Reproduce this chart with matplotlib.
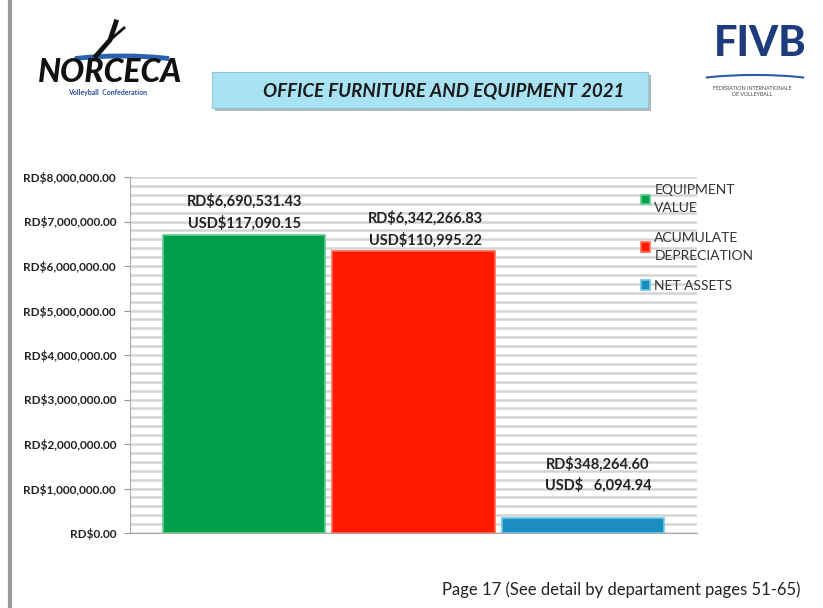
import matplotlib.pyplot as plt
import matplotlib.patches as mpatches
from matplotlib.ticker import FuncFormatter, MultipleLocator

# data
series = ['EQUIPMENT\nVALUE', 'ACUMULATE\nDEPRECIATION', 'NET ASSETS']
rd_values = [6690531.43, 6342266.83, 348264.60]
usd_values = [117090.15, 110995.22, 6094.94]
colors = ['#00A04B', '#FF1A00', '#1C8DBF']
edge_colors = ['#5FD08F', '#FF6A50', '#6CC8E8']
label_texts = ['RD$6,690,531.43\nUSD$117,090.15',
               'RD$6,342,266.83\nUSD$110,995.22',
               'RD$348,264.60\nUSD$   6,094.94']
label_y = [6.8e6, 6.42e6, 0.9e6]
label_dx = [0, 0.07, 0.09]

plt.rcParams['font.family'] = ['Lato', 'DejaVu Sans']

fig = plt.figure(figsize=(8.23, 6.08), dpi=100)
W, H = 823, 608

def fx(px):
    return px / W

def fy(py):
    return 1 - py / H

# page border line on the left
fig.add_artist(plt.Line2D([fx(10), fx(10)], [0, 1], color='#9a9a9a', lw=3))

# title box with shadow
shadow = mpatches.Rectangle((fx(215), fy(111)), fx(436), fy(72) - fy(108),
                            transform=fig.transFigure, facecolor='#b8b8b8',
                            edgecolor='none', zorder=1)
box = mpatches.Rectangle((fx(212), fy(108)), fx(436), fy(72) - fy(108),
                         transform=fig.transFigure, facecolor='#A9E2F2',
                         edgecolor='#8fc8da', lw=0.8, zorder=2)
fig.add_artist(shadow)
fig.add_artist(box)
fig.text(fx(444), fy(91), 'OFFICE FURNITURE AND EQUIPMENT 2021', ha='center',
         va='center', fontsize=13.5, fontweight='bold', fontstyle='italic',
         color='#1a1a1a', zorder=3)

# NORCECA logo (text approximation)
fig.text(fx(110), fy(73), 'NORCECA', ha='center', va='center', fontsize=23,
         fontweight='black', fontstyle='italic', color='#111111')
fig.text(fx(108), fy(93), 'Volleyball  Confederation', ha='center', va='center',
         fontsize=5, fontweight='bold', color='#2b4f9a')
swoosh = mpatches.Arc((fx(122), fy(68)), fx(150), fy(44) - fy(68), theta1=15,
                      theta2=165, transform=fig.transFigure, color='#2a62b0', lw=3.5)
fig.add_artist(swoosh)
fig.add_artist(plt.Line2D([fx(96), fx(110), fx(116)], [fy(56), fy(40), fy(22)],
                          color='#111111', lw=3.5))
fig.add_artist(plt.Line2D([fx(110), fx(124)], [fy(40), fy(28)],
                          color='#111111', lw=2))

# FIVB logo (text approximation)
fig.text(fx(760), fy(44), 'FIVB', ha='center', va='center', fontsize=30,
         fontweight='black', color='#1E3C7D')
arc2 = mpatches.Arc((fx(755), fy(84)), fx(140), fy(66) - fy(84), theta1=10,
                    theta2=170, transform=fig.transFigure, color='#2a5aa8', lw=1.5)
fig.add_artist(arc2)
fig.text(fx(752), fy(91), 'FÉDÉRATION INTERNATIONALE\nDE VOLLEYBALL', ha='center',
         va='center', fontsize=3.8, color='#444444', linespacing=1.2)

# chart
ax = fig.add_axes([fx(130), fy(533), fx(697) - fx(130), fy(177) - fy(533)])
x = list(range(len(series)))
bars = ax.bar(x, rd_values, width=0.96, color=colors, edgecolor=edge_colors,
              linewidth=1.2, zorder=3)
for b, lab in zip(bars, series):
    b.set_label(lab)

for i, t in enumerate(label_texts):
    ax.text(x[i] + label_dx[i], label_y[i], t, ha='center', va='bottom',
            fontsize=10.5, fontweight='bold', color='#222222', linespacing=1.5,
            zorder=4)

ax.set_xlim(-0.675, 2.675)
ax.set_ylim(0, 8e6)
ax.yaxis.set_major_locator(MultipleLocator(1e6))
ax.yaxis.set_minor_locator(MultipleLocator(2e5))
ax.yaxis.set_major_formatter(FuncFormatter(lambda v, p: 'RD${:,.2f}'.format(v)))
ax.grid(axis='y', which='both', color='#d4d4d4', lw=1.8, zorder=0)
ax.set_xticks([])
ax.tick_params(axis='y', which='major', labelsize=8.5, length=4, color='#999999',
               labelcolor='#222222', pad=6)
ax.tick_params(axis='y', which='minor', length=0)
for lbl in ax.get_yticklabels():
    lbl.set_fontweight('bold')
for s in ['top', 'right']:
    ax.spines[s].set_visible(False)
ax.spines['left'].set_color('#aaaaaa')
ax.spines['bottom'].set_color('#aaaaaa')

leg = ax.legend(loc='upper left', bbox_to_anchor=(fx(628), fy(172)),
                bbox_transform=fig.transFigure, frameon=False, fontsize=10,
                handlelength=0.7, handleheight=0.7, handletextpad=0.3,
                labelspacing=1.3, labelcolor='#333333')
for t in leg.get_texts():
    t.set_linespacing(1.55)

fig.text(fx(800), fy(590), 'Page 17 (See detail by departament pages 51-65)',
         ha='right', va='center', fontsize=12, color='#222222')

fig.savefig('out.png', dpi=100)
